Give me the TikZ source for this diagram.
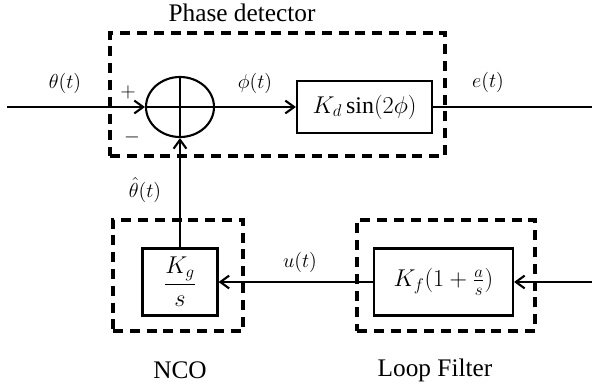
\documentclass[tikz,border=0pt]{standalone}
\usepackage{amsmath,amssymb}
\usepackage{fontspec}
\setmainfont{Liberation Serif}
\usepackage{tikz}
\usetikzlibrary{arrows.meta,positioning,shapes.geometric}

\begin{document}
\begin{tikzpicture}[
  x=0.025cm, y=-0.025cm,
  block/.style={draw, line width=1.5pt, minimum width=#1, inner sep=0pt, font=\fontsize{17}{20}\selectfont},
  group/.style={draw, line width=2.4pt, dash pattern=on 0.25cm off 0.17cm, inner sep=0pt},
  sig/.style={font=\fontsize{14}{16}\selectfont},
  title/.style={font=\fontsize{18}{22}\selectfont},
  arrow/.style={-{Straight Barb[length=2.2mm,width=3.2mm]}, line width=1.5pt},
  line/.style={line width=1.5pt}
]
\useasboundingbox (0,0) rectangle (592,389);
% dashed groups
\node[group, minimum width=8.375cm, minimum height=3.075cm] (pd) at (277.5,94.5) {};
\node[group, minimum width=3.25cm, minimum height=2.775cm] (ncog) at (178,275.5) {};
\node[group, minimum width=4.45cm, minimum height=2.775cm] (lfg) at (446,275.5) {};
\node[title] (pdlab) at (242,13) {Phase detector};
\node[title] (ncolab) at (180,370) {NCO};
\node[title] (lflab) at (435,370) {Loop Filter};
% blocks
\node[draw, ellipse, line width=1.5pt, minimum width=1.7cm, minimum height=1.5cm, inner sep=0pt] (sum) at (180,107) {};
\draw[line] (sum.north) -- (sum.south);
\draw[line] (sum.west) -- (sum.east);
\node[block=3.375cm, minimum height=1.3cm] (kd) at (364.5,107) {$K_d\sin(2\phi)$};
\node[block=3.475cm, minimum height=1.675cm] (lf) at (443.5,282) {$K_f(1+\frac{a}{s})$};
\node[block=1.875cm, minimum height=1.675cm] (nco) at (180,282) {$\dfrac{K_g}{s}$};
% ends
\coordinate (in) at (7,107);
\coordinate (out) at (592,107);
\coordinate (fb) at (592,282);
% connectors
\draw[arrow] (in) -- (sum.west);
\draw[arrow] (sum.east) -- (kd.west);
\draw[line] (kd.east) -- (out);
\draw[arrow] (fb) -- (lf.east);
\draw[arrow] (lf.west) -- (nco.east);
\draw[arrow] (nco.north) -- (sum.south);
% signal labels
\node[sig] (theta) at (65,83) {$\theta(t)$};
\node[sig] (plus) at (128,92) {$+$};
\node[sig] (minus) at (132,137) {$-$};
\node[sig] (phi) at (255,83) {$\phi(t)$};
\node[sig] (err) at (488,82) {$e(t)$};
\node[sig] (thhat) at (145,190) {$\hat{\theta}(t)$};
\node[sig] (ctl) at (300,262) {$u(t)$};
\end{tikzpicture}
\end{document}
